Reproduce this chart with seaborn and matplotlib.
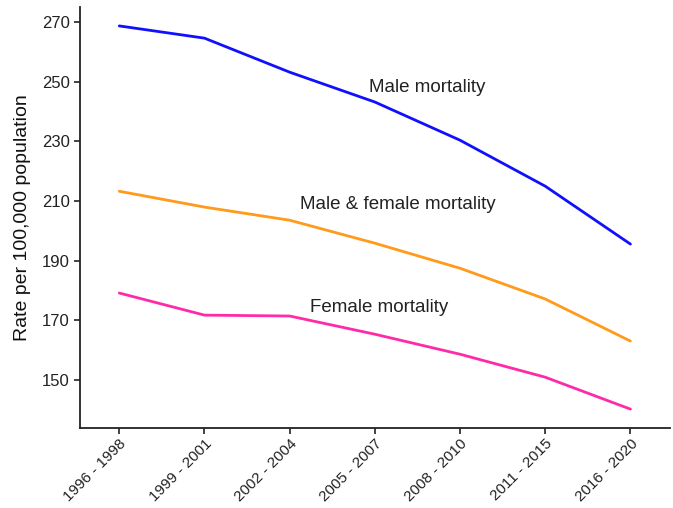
import pandas as pd
import matplotlib
matplotlib.use('Agg')
import matplotlib.pyplot as plt
import seaborn as sns

periods = ['1996 - 1998', '1999 - 2001', '2002 - 2004', '2005 - 2007',
           '2008 - 2010', '2011 - 2015', '2016 - 2020']
male = [268.7, 264.6, 253.2, 243.2, 230.4, 215.0, 195.6]
both = [213.3, 208.0, 203.6, 195.9, 187.5, 177.2, 163.1]
female = [179.2, 171.8, 171.5, 165.4, 158.7, 151.0, 140.3]

df = pd.DataFrame({'period': periods * 3,
                   'rate': male + both + female,
                   'group': ['Male'] * 7 + ['Both'] * 7 + ['Female'] * 7})

sns.set_style('ticks')
plt.rcParams['font.family'] = ['Liberation Sans', 'DejaVu Sans']

fig = plt.figure(figsize=(6.73, 5.08), dpi=100)
ax = fig.add_axes([0.119, 0.157, 0.876, 0.829])

palette = {'Male': '#1010ff', 'Both': '#ff9a1a', 'Female': '#ff2aa8'}
sns.lineplot(data=df, x='period', y='rate', hue='group', palette=palette,
             linewidth=2, legend=False, ax=ax, sort=False)

# series labels placed inside the plot
ax.text(3.61, 248.2, 'Male mortality', fontsize=13.5, ha='center', va='center', color='#222222')
ax.text(3.27, 209.0, 'Male & female mortality', fontsize=13.5, ha='center', va='center', color='#222222')
ax.text(3.05, 174.5, 'Female mortality', fontsize=13.5, ha='center', va='center', color='#222222')

ax.set_xlim(-0.46, 6.46)
ax.set_ylim(133.9, 275)
ax.set_yticks([150, 170, 190, 210, 230, 250, 270])
ax.set_xlabel('')
ax.set_ylabel('Rate per 100,000 population', fontsize=14, color='#111111', labelpad=8)
ax.tick_params(axis='y', labelsize=12, colors='#222222', length=4, width=1.2)
ax.tick_params(axis='x', labelsize=11, colors='#222222', length=4, width=1.2, pad=2)
plt.setp(ax.get_xticklabels(), rotation=45, ha='right', va='top', rotation_mode='anchor')
sns.despine(ax=ax)
for s in ['left', 'bottom']:
    ax.spines[s].set_linewidth(1.3)
    ax.spines[s].set_color('#222222')

fig.savefig('out.png', dpi=100)
